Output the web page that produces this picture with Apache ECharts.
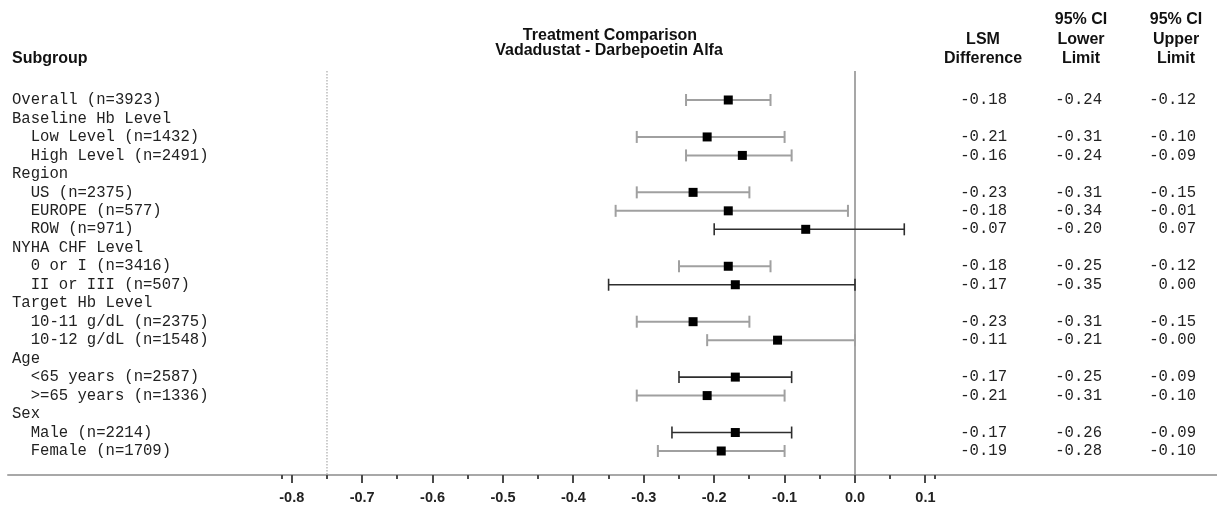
<!DOCTYPE html>
<html><head><meta charset="utf-8">
<script src="https://cdn.jsdelivr.net/npm/echarts@6/dist/echarts.min.js"></script>
<style>html,body{margin:0;padding:0;background:#fff}#c{width:1217px;height:506px}</style>
</head><body><div id="c"></div>
<script>
// ---- data ----
const subgroups = [
  'Overall (n=3923)',
  'Baseline Hb Level',
  '  Low Level (n=1432)',
  '  High Level (n=2491)',
  'Region',
  '  US (n=2375)',
  '  EUROPE (n=577)',
  '  ROW (n=971)',
  'NYHA CHF Level',
  '  0 or I (n=3416)',
  '  II or III (n=507)',
  'Target Hb Level',
  '  10-11 g/dL (n=2375)',
  '  10-12 g/dL (n=1548)',
  'Age',
  '  <65 years (n=2587)',
  '  >=65 years (n=1336)',
  'Sex',
  '  Male (n=2214)',
  '  Female (n=1709)'
];
const lsmDiff = [-0.18, null, -0.21, -0.16, null, -0.23, -0.18, -0.07, null, -0.18, -0.17, null, -0.23, -0.11, null, -0.17, -0.21, null, -0.17, -0.19];
const ciLower = [-0.24, null, -0.31, -0.24, null, -0.31, -0.34, -0.20, null, -0.25, -0.35, null, -0.31, -0.21, null, -0.25, -0.31, null, -0.26, -0.28];
const ciUpper = [-0.12, null, -0.10, -0.09, null, -0.15, -0.01, 0.07, null, -0.12, 0.00, null, -0.15, -0, null, -0.09, -0.10, null, -0.09, -0.10];
const xTickLabels = [-0.8, -0.7, -0.6, -0.5, -0.4, -0.3, -0.2, -0.1, 0.0, 0.1];
const xMinorTicks = [-0.814, -0.75, -0.65, -0.55, -0.45, -0.35, -0.25, -0.15, -0.05, 0.05, 0.114];
const refLineValue = 0;
const dottedLineValue = -0.75;

// ---- helpers ----
function fmt(v) {
  if (v === null) return '';
  if (Object.is(v, -0)) return '-0.00';
  return v.toFixed(2);
}
const darkRows = new Set([7, 10, 15, 18]);
const rowIdx = subgroups.map((_, i) => i).filter(i => lsmDiff[i] !== null);

const monoFont = {fontFamily: 'Liberation Mono', fontSize: 15.6, color: '#222'};
const headFont = 'bold 16px "Liberation Sans"';
const X_MIN = -1.2031, X_MAX = 0.5142, AX_OFFSET = 14.76;
const AXIS_Y = 475;

const chart = echarts.init(document.getElementById('c'), null, {renderer: 'canvas'});

function colAxis(values, margin) {
  return {
    type: 'category', position: 'right', inverse: true, gridIndex: 0,
    data: values.map(fmt),
    axisLine: {show: false}, axisTick: {show: false}, splitLine: {show: false},
    axisLabel: Object.assign({interval: 0, align: 'right', margin: margin}, monoFont)
  };
}

chart.setOption({
  animation: false,
  backgroundColor: '#fff',
  grid: {left: 8, right: 0, top: 90.76, bottom: 45.76, containLabel: false},
  xAxis: [{
    type: 'value', min: X_MIN, max: X_MAX, offset: AX_OFFSET, position: 'bottom',
    axisLine: {show: true, onZero: false, lineStyle: {color: '#a8a8a8', width: 2}},
    splitLine: {show: false},
    axisTick: {show: false},
    axisLabel: {customValues: xTickLabels, formatter: v => v.toFixed(1), margin: 15,
      fontFamily: 'Liberation Sans', fontWeight: 'bold', fontSize: 14.5, color: '#222'}
  }],
  yAxis: [{
    type: 'category', inverse: true, data: subgroups,
    axisLine: {show: false}, axisTick: {show: false}, splitLine: {show: false},
    axisLabel: Object.assign({interval: 0, align: 'left', margin: -4}, monoFont)
  },
    colAxis(lsmDiff, -210),
    colAxis(ciLower, -115),
    colAxis(ciUpper, -21)
  ],
  series: [{
    type: 'custom', xAxisIndex: 0, yAxisIndex: 0,
    data: rowIdx.map(i => [ciLower[i], ciUpper[i], i]),
    encode: {x: [0, 1], y: 2},
    renderItem: function (params, api) {
      const r = api.value(2);
      const lo = api.coord([api.value(0), r]);
      const hi = api.coord([api.value(1), r]);
      const dark = darkRows.has(r);
      const col = dark ? '#2e2e2e' : '#a0a0a0';
      const lw = dark ? 1.6 : 2;
      const h = 6;
      const st = {stroke: col, lineWidth: lw};
      return {type: 'group', children: [
        {type: 'line', shape: {x1: lo[0], y1: lo[1], x2: hi[0], y2: hi[1]}, style: st},
        {type: 'line', shape: {x1: lo[0], y1: lo[1] - h, x2: lo[0], y2: lo[1] + h}, style: st},
        {type: 'line', shape: {x1: hi[0], y1: hi[1] - h, x2: hi[0], y2: hi[1] + h}, style: st}
      ]};
    },
    z: 2
  }, {
    type: 'scatter', xAxisIndex: 0, yAxisIndex: 0,
    data: rowIdx.map(i => [lsmDiff[i], i]),
    symbol: 'rect', symbolSize: 9,
    itemStyle: {color: '#000', opacity: 1},
    z: 3
  }]
});

const toPx = v => chart.convertToPixel({xAxisIndex: 0}, v);
const x0 = toPx(refLineValue);
const xd = toPx(dottedLineValue);
const lineTop = 71;

function txt(t, x, y, align) {
  return {type: 'text', x: x, y: y, silent: true,
    style: {text: t, font: headFont, fill: '#111', align: align || 'center', verticalAlign: 'middle'}};
}
function tick(v, len, w) {
  const px = Math.round(toPx(v));
  return {type: 'rect', silent: true, z: 50,
    shape: {x: px - w / 2, y: AXIS_Y, width: w, height: len},
    style: {fill: '#4a4a4a'}};
}

chart.setOption({
  graphic: [
    {type: 'line', shape: {x1: x0, y1: lineTop, x2: x0, y2: AXIS_Y}, style: {stroke: '#8a8a8a', lineWidth: 1.5}, z: 1},
    {type: 'line', shape: {x1: xd, y1: lineTop, x2: xd, y2: AXIS_Y}, style: {stroke: '#999', lineWidth: 1, lineDash: [1.5, 1.5]}, z: 1},
    ...xTickLabels.map(v => tick(v, 8, 2)),
    ...xMinorTicks.map(v => tick(v, 4, 2)),
    txt('Subgroup', 12, 59, 'left'),
    txt('Treatment Comparison', 610, 36),
    txt('Vadadustat - Darbepoetin Alfa', 609, 51),
    txt('LSM', 983, 40),
    txt('Difference', 983, 59),
    txt('95% CI', 1081, 20),
    txt('Lower', 1081, 40),
    txt('Limit', 1081, 59),
    txt('95% CI', 1176, 20),
    txt('Upper', 1176, 40),
    txt('Limit', 1176, 59)
  ]
});
</script></body></html>
